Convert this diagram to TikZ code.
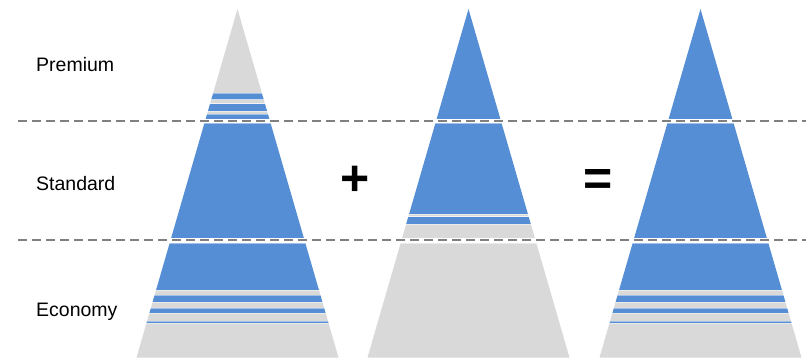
\documentclass[tikz,border=0pt]{standalone}
\usepackage{fontspec}
\setmainfont{Liberation Sans}
\definecolor{bl}{HTML}{558ED5}
\definecolor{gr}{HTML}{D9D9D9}
\definecolor{dashgray}{HTML}{808080}
\tikzset{
  lbl/.style={anchor=base west, inner sep=0pt, font=\fontsize{19.5}{23}\selectfont},
  opsign/.style={inner sep=0pt, font=\fontsize{50}{56}\selectfont\bfseries},
  tierline/.style={draw=dashgray, line width=2.3pt, dash pattern=on 8.5pt off 5.5pt},
  band/.style={draw=white, draw opacity=0.45, line width=0.3pt}
}
\newcommand\pyr[2]{%
  \begin{scope}
    \clip (#1,9) -- (#1+101,357.5) -- (#1-101,357.5) -- cycle;
    \foreach \ya/\yb/\cc in {#2} {
      \filldraw[band, fill=\cc] (#1-115,\ya) rectangle (#1+115,\yb);
    }
  \end{scope}}
\begin{document}
\begin{tikzpicture}[x=1pt,y=-1pt]
\useasboundingbox (0,0) rectangle (809,359);
% pyramid 1
\pyr{237.5}{0/93/gr, 93/99.5/bl, 99.5/103.5/gr, 103.5/110.7/bl, 110.7/114/gr, 114/118.7/bl,
  122.7/238.3/bl,
  243.3/290/bl, 290/295/gr, 295/301.7/bl, 301.7/307.7/gr, 307.7/313.3/bl, 313.3/320.7/gr, 320.7/323.3/bl, 323.3/360/gr}
% pyramid 2
\pyr{468.5}{0/118.7/bl,
  122.7/214/bl, 214/216.5/gr, 216.5/224/bl, 224/238.3/gr,
  243.3/360/gr}
% pyramid 3
\pyr{700.5}{0/118.7/bl,
  122.7/238.3/bl,
  243.3/290/bl, 290/295/gr, 295/301.7/bl, 301.7/307.7/gr, 307.7/313.3/bl, 313.3/320.7/gr, 320.7/323.3/bl, 323.3/360/gr}
% dashed tier lines
\coordinate (l1a) at (18,121);
\coordinate (l1b) at (806,121);
\coordinate (l2a) at (18,240);
\coordinate (l2b) at (806,240);
\draw[tierline] (l1a) -- (l1b);
\draw[tierline] (l2a) -- (l2b);
% labels
\node[lbl] (premium) at (36,71) {Premium};
\node[lbl] (standard) at (36,190) {Standard};
\node[lbl] (economy) at (36,316) {Economy};
\node[opsign] (plus) at (355,181) {+};
\node[opsign] (equals) at (598,182.5) {=};
\end{tikzpicture}
\end{document}
